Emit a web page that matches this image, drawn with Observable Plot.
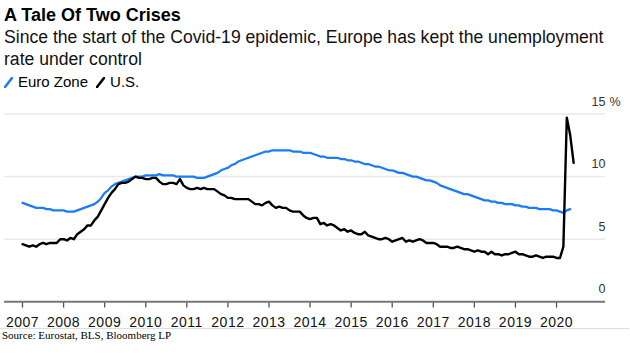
<!DOCTYPE html>
<html>
<head>
<meta charset="utf-8">
<script src="https://cdn.jsdelivr.net/npm/d3@7"></script>
<script src="https://cdn.jsdelivr.net/npm/@observablehq/plot@0.6"></script>
<style>
  html, body { margin: 0; padding: 0; background: #fff; }
  body { width: 630px; height: 359px; position: relative; overflow: hidden; font-family: "Liberation Sans", Arial, sans-serif; color: #000; }
  #title { position: absolute; left: 4px; top: 4px; font-size: 18px; font-weight: bold; line-height: 22px; white-space: nowrap; }
  #subtitle { position: absolute; left: 4px; top: 26px; font-size: 17.6px; line-height: 22px; white-space: nowrap; color: #111; }
  #legend { position: absolute; left: 4px; top: 71px; font-size: 15px; line-height: 22px; white-space: nowrap; display: flex; align-items: center; }
  #legend .item { display: flex; align-items: center; margin-right: 8px; }
  #legend svg { margin-right: 5px; }
  #chart { position: absolute; left: 0; top: 92px; }
  #source { position: absolute; left: 0; top: 328px; width: 627px; border-top: 1px solid #ddd; font-family: "Liberation Serif", "Times New Roman", serif; font-size: 11px; line-height: 12px; padding-left: 2px; color: #000; }
  #chart g[aria-label="x-axis tick label"] text { letter-spacing: 0.5px; }
</style>
</head>
<body>
<div id="title">A Tale Of Two Crises</div>
<div id="subtitle">Since the start of the Covid-19 epidemic, Europe has kept the unemployment<br>rate under control</div>
<div id="legend"></div>
<div id="chart"></div>
<div id="source">Source: Eurostat, BLS, Bloomberg LP</div>
<script>
// Monthly unemployment rate (%), starting January 2007
const startYear = 2007;
const seriesNames = ["Euro Zone", "U.S."];
const seriesColors = ["#1a7cf5", "#000000"];

const euroZone = [
  7.9,7.8,7.7,7.6,7.5,7.5,7.5,7.4,7.4,7.3,7.3,7.3,
  7.3,7.2,7.2,7.2,7.3,7.4,7.5,7.6,7.7,7.8,8.0,8.3,
  8.7,8.9,9.2,9.4,9.5,9.6,9.7,9.8,9.9,10.0,10.0,10.0,
  10.1,10.1,10.1,10.1,10.2,10.1,10.1,10.1,10.1,10.0,10.0,10.0,
  10.0,10.0,10.0,9.9,9.9,9.9,10.0,10.1,10.2,10.3,10.5,10.6,
  10.7,10.9,11.0,11.2,11.3,11.4,11.5,11.6,11.7,11.8,11.9,12.0,
  12.0,12.1,12.1,12.1,12.1,12.1,12.1,12.0,12.0,12.0,11.9,11.9,
  11.9,11.8,11.7,11.6,11.6,11.5,11.5,11.5,11.5,11.4,11.4,11.3,
  11.3,11.2,11.2,11.1,11.0,11.0,10.9,10.8,10.8,10.7,10.6,10.5,
  10.5,10.4,10.3,10.3,10.2,10.1,10.0,10.0,9.9,9.8,9.7,9.7,
  9.6,9.5,9.3,9.2,9.1,9.0,8.9,8.8,8.7,8.6,8.6,8.5,
  8.4,8.3,8.2,8.1,8.1,8.0,8.0,7.9,7.9,7.8,7.8,7.8,
  7.7,7.7,7.6,7.6,7.5,7.5,7.5,7.4,7.4,7.4,7.4,7.3,
  7.3,7.2,7.1,7.3,7.4
];

const us = [
  4.6,4.5,4.4,4.5,4.4,4.6,4.7,4.6,4.7,4.7,4.7,5.0,
  5.0,4.9,5.1,5.0,5.4,5.6,5.8,6.1,6.1,6.5,6.8,7.3,
  7.8,8.3,8.7,9.0,9.4,9.5,9.5,9.6,9.8,10.0,9.9,9.9,
  9.8,9.8,9.9,9.9,9.6,9.4,9.4,9.5,9.5,9.4,9.8,9.3,
  9.1,9.0,9.0,9.1,9.0,9.1,9.0,9.0,9.0,8.8,8.6,8.5,
  8.3,8.3,8.2,8.2,8.2,8.2,8.2,8.0,7.8,7.8,7.7,7.9,
  8.0,7.7,7.5,7.6,7.5,7.5,7.3,7.2,7.2,7.2,6.9,6.7,
  6.6,6.7,6.7,6.2,6.3,6.1,6.2,6.1,5.9,5.7,5.8,5.6,
  5.7,5.5,5.4,5.4,5.6,5.3,5.2,5.1,5.0,5.0,5.1,5.0,
  4.8,4.9,5.0,5.1,4.8,4.9,4.8,4.9,5.0,4.9,4.7,4.7,
  4.7,4.6,4.4,4.4,4.4,4.3,4.3,4.4,4.3,4.2,4.2,4.1,
  4.0,4.1,4.0,4.0,3.8,4.0,3.8,3.8,3.7,3.8,3.8,3.9,
  4.0,3.8,3.8,3.7,3.6,3.6,3.7,3.6,3.5,3.6,3.6,3.6,
  3.5,3.5,4.4,14.7,13.3,11.1
];

const yearTicks = [2007,2008,2009,2010,2011,2012,2013,2014,2015,2016,2017,2018,2019,2020];
const yTicks = [0, 5, 10, 15];

const toRows = (vals, name) => vals.map((v, i) => ({date: startYear + i / 12, value: v, series: name}));
const euroRows = toRows(euroZone, seriesNames[0]);
const usRows = toRows(us, seriesNames[1]);

// Legend
const legend = document.getElementById("legend");
seriesNames.forEach((name, i) => {
  const item = document.createElement("span");
  item.className = "item";
  item.innerHTML = `<svg width="9" height="11"><line x1="1" y1="10" x2="8" y2="1" stroke="${seriesColors[i]}" stroke-width="2.6" stroke-linecap="round"/></svg>${name}`;
  legend.appendChild(item);
});

const H = 236, MT = 21.5, MB = 26.7;
const chart = Plot.plot({
  width: 630,
  height: H,
  marginLeft: 4,
  marginRight: 25,
  marginTop: MT,
  marginBottom: MB,
  style: {fontFamily: "'Liberation Sans', Arial, sans-serif", background: "transparent", overflow: "visible"},
  x: {domain: [2006.562, 2021.192], axis: null},
  y: {domain: [0, 15], axis: null},
  marks: [
    Plot.ruleY(yTicks.filter(d => d > 0), {stroke: "#e9e9e9", strokeWidth: 1.5}),
    Plot.axisX({ticks: yearTicks, tickFormat: d => String(d), tickSize: 0, tickPadding: 15, fontSize: 14, fill: "#111", label: null}),
    Plot.tickX(yearTicks, {x: d => d, insetTop: H - MT - MB, insetBottom: -6.3, stroke: "#555", strokeWidth: 1.3}),
    Plot.ruleY([0], {stroke: "#777", strokeWidth: 2}),
    Plot.text(yTicks, {y: d => d, text: d => String(d), frameAnchor: "right", textAnchor: "end", dy: -12.5, fontSize: 12.5, fill: "#333"}),
    Plot.text([15], {y: d => d, text: () => "%", frameAnchor: "right", textAnchor: "start", dx: 4, dy: -12.5, fontSize: 12.5, fill: "#333"}),
    Plot.line(euroRows, {x: "date", y: "value", stroke: seriesColors[0], strokeWidth: 2.2, strokeLinejoin: "round"}),
    Plot.line(usRows, {x: "date", y: "value", stroke: seriesColors[1], strokeWidth: 2.4, strokeLinejoin: "round"})
  ]
});
document.getElementById("chart").appendChild(chart);
</script>
</body>
</html>
